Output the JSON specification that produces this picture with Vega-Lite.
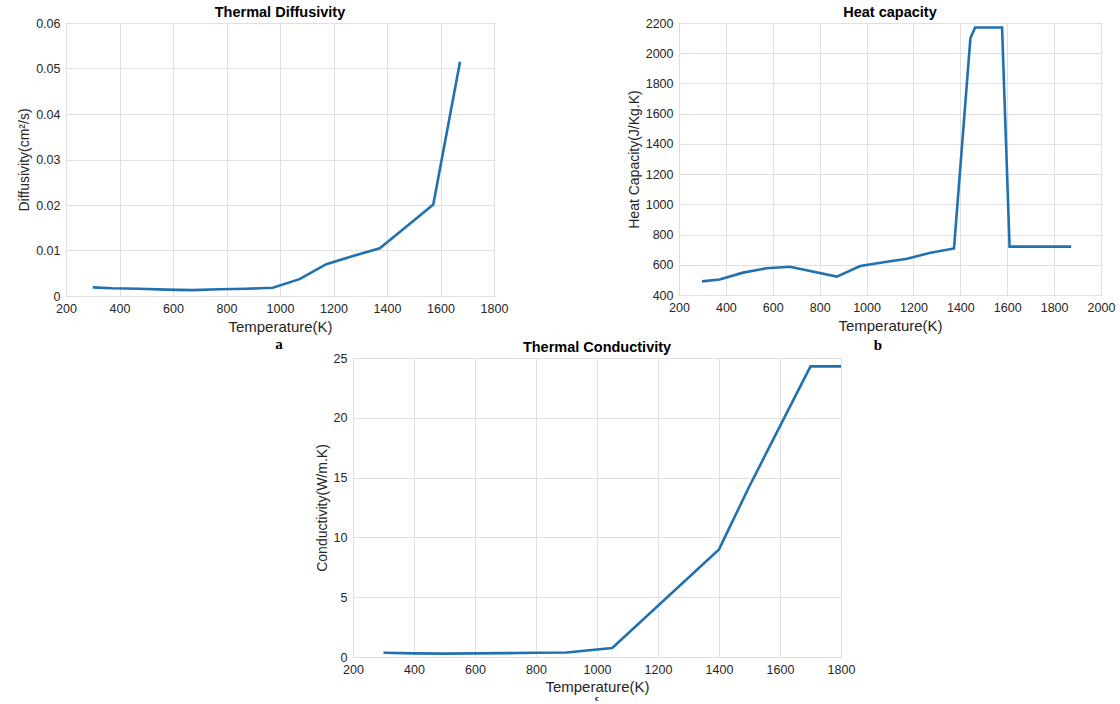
{
  "$schema": "https://vega.github.io/schema/vega-lite/v6.json",
  "padding": {"left": 17, "top": 4, "right": 5, "bottom": 0},
  "background": "white",
  "datasets": {
    "diff": [
      {"T": 300, "v": 0.0019}, {"T": 373, "v": 0.0017}, {"T": 473, "v": 0.0016}, {"T": 573, "v": 0.0014},
      {"T": 673, "v": 0.0013}, {"T": 773, "v": 0.0015}, {"T": 873, "v": 0.0016}, {"T": 973, "v": 0.0018},
      {"T": 1073, "v": 0.0037}, {"T": 1173, "v": 0.0070}, {"T": 1273, "v": 0.0088}, {"T": 1373, "v": 0.0105},
      {"T": 1473, "v": 0.0153}, {"T": 1573, "v": 0.0201}, {"T": 1673, "v": 0.0515}
    ],
    "cap": [
      {"T": 298, "v": 490}, {"T": 373, "v": 502}, {"T": 473, "v": 548}, {"T": 573, "v": 577},
      {"T": 673, "v": 587}, {"T": 873, "v": 522}, {"T": 973, "v": 592}, {"T": 1073, "v": 617},
      {"T": 1173, "v": 640}, {"T": 1273, "v": 680}, {"T": 1373, "v": 708}, {"T": 1443, "v": 2100},
      {"T": 1463, "v": 2170}, {"T": 1578, "v": 2170}, {"T": 1610, "v": 720}, {"T": 1873, "v": 720}
    ],
    "cond": [
      {"T": 300, "v": 0.36}, {"T": 400, "v": 0.3}, {"T": 500, "v": 0.28}, {"T": 600, "v": 0.3},
      {"T": 700, "v": 0.32}, {"T": 800, "v": 0.36}, {"T": 900, "v": 0.38}, {"T": 1050, "v": 0.75},
      {"T": 1400, "v": 9.0}, {"T": 1500, "v": 14.3}, {"T": 1700, "v": 24.3}, {"T": 1800, "v": 24.3}
    ],
    "blank": [{"k": 0}]
  },
  "vconcat": [
    {
      "hconcat": [
        {
          "title": {"text": "a", "orient": "bottom", "anchor": "middle", "frame": "group", "dx": 213, "font": "Liberation Serif", "fontSize": 15, "fontWeight": "bold", "color": "#000", "offset": 2},
          "vconcat": [
            {
              "title": "Thermal Diffusivity",
              "width": 428, "height": 273,
              "data": {"name": "diff"},
              "mark": {"type": "line"},
              "encoding": {
                "x": {"field": "T", "type": "quantitative", "scale": {"domain": [200, 1800], "nice": false, "zero": false},
                      "axis": {"values": [200, 400, 600, 800, 1000, 1200, 1400, 1600, 1800], "format": "d", "title": "Temperature(K)"}},
                "y": {"field": "v", "type": "quantitative", "scale": {"domain": [0, 0.06], "nice": false, "zero": false},
                      "axis": {"values": [0, 0.01, 0.02, 0.03, 0.04, 0.05, 0.06], "format": ".2~f", "title": "Diffusivity(cm²/s)"}}
              }
            }
          ]
        },
        {
          "title": {"text": "b", "orient": "bottom", "anchor": "middle", "frame": "group", "dx": 199, "font": "Liberation Serif", "fontSize": 15, "fontWeight": "bold", "color": "#000", "offset": 4},
          "vconcat": [
            {
              "title": "Heat capacity",
              "width": 422, "height": 272,
              "data": {"name": "cap"},
              "mark": {"type": "line"},
              "encoding": {
                "x": {"field": "T", "type": "quantitative", "scale": {"domain": [200, 2000], "nice": false, "zero": false},
                      "axis": {"values": [200, 400, 600, 800, 1000, 1200, 1400, 1600, 1800, 2000], "format": "d", "title": "Temperature(K)"}},
                "y": {"field": "v", "type": "quantitative", "scale": {"domain": [400, 2200], "nice": false, "zero": false},
                      "axis": {"values": [400, 600, 800, 1000, 1200, 1400, 1600, 1800, 2000, 2200], "format": "d", "title": "Heat Capacity(J/Kg.K)"}}
              }
            }
          ]
        }
      ],
      "spacing": 117
    },
    {
      "hconcat": [
        {
          "width": 248, "height": 10,
          "data": {"name": "blank"},
          "mark": {"type": "point", "opacity": 0},
          "view": {"stroke": null}
        },
        {
          "title": {"text": "c", "orient": "bottom", "anchor": "middle", "frame": "group", "dx": 244, "font": "Liberation Serif", "fontSize": 9, "fontWeight": "bold", "color": "#000", "offset": -1},
          "vconcat": [
            {
              "title": "Thermal Conductivity",
              "width": 488, "height": 299,
              "data": {"name": "cond"},
              "mark": {"type": "line"},
              "encoding": {
                "x": {"field": "T", "type": "quantitative", "scale": {"domain": [200, 1800], "nice": false, "zero": false},
                      "axis": {"values": [200, 400, 600, 800, 1000, 1200, 1400, 1600, 1800], "format": "d", "title": "Temperature(K)", "titlePadding": 4}},
                "y": {"field": "v", "type": "quantitative", "scale": {"domain": [0, 25], "nice": false, "zero": false},
                      "axis": {"values": [0, 5, 10, 15, 20, 25], "format": "d", "title": "Conductivity(W/m.K)"}}
              }
            }
          ]
        }
      ],
      "spacing": 0
    }
  ],
  "spacing": -14,
  "config": {
    "font": "Liberation Sans",
    "view": {"stroke": "#8a8a8a", "strokeWidth": 1},
    "axis": {
      "grid": true, "gridColor": "#e0e0e0", "gridWidth": 1,
      "domain": false, "ticks": false,
      "labelColor": "#262626", "labelFontSize": 12.5, "labelFlush": false, "labelOverlap": false, "labelPadding": 6,
      "titleColor": "#262626", "titleFontSize": 14, "titleFontWeight": "normal"
    },
    "axisY": {"titlePadding": 4},
    "axisX": {"titlePadding": 5, "titleFontSize": 15},
    "title": {"fontSize": 14.5, "fontWeight": "bold", "color": "#000", "offset": -3},
    "line": {"strokeWidth": 2.6, "color": "#2171b0"}
  }
}
